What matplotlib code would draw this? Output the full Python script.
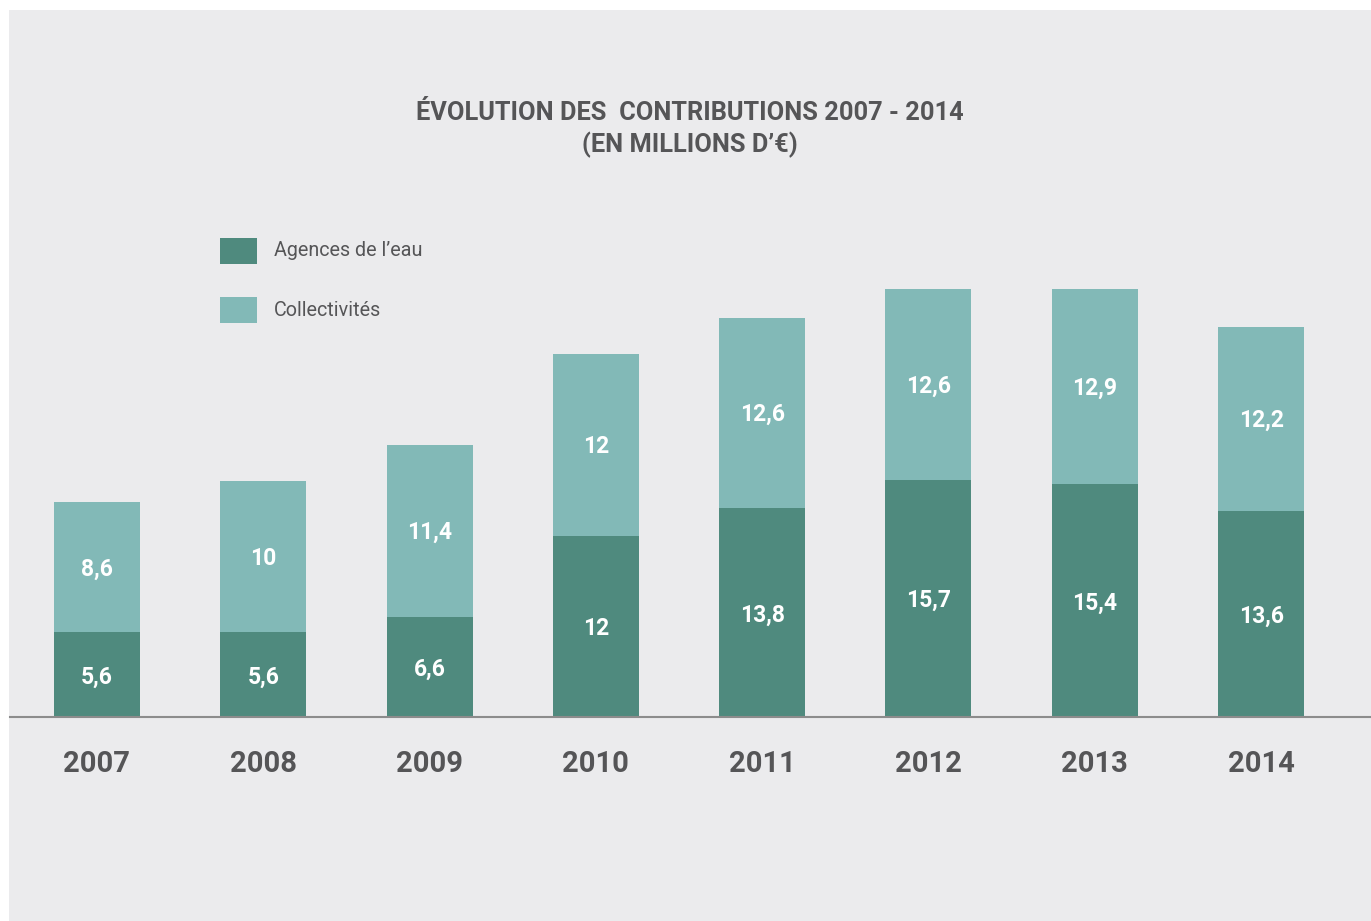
import matplotlib
matplotlib.use("Agg")
import matplotlib.pyplot as plt
from matplotlib.patches import Rectangle

years = ["2007", "2008", "2009", "2010", "2011", "2012", "2013", "2014"]
agences = [5.6, 5.6, 6.6, 12, 13.8, 15.7, 15.4, 13.6]
collectivites = [8.6, 10, 11.4, 12, 12.6, 12.6, 12.9, 12.2]
series_names = ["Agences de l\u2019eau", "Collectivités"]

DARK = "#4F8A7E"
LIGHT = "#82B9B7"
BG = "#EBEBED"
TXT = "#555557"

W, H = 1371, 921
fig = plt.figure(figsize=(W / 100, H / 100), dpi=100)
fig.patch.set_facecolor("white")
fig.add_artist(Rectangle((9 / W, 0), 1 - 9 / W, 1 - 10 / H, transform=fig.transFigure,
                         facecolor=BG, edgecolor="none", zorder=-10))

ax = fig.add_axes([10 / W, (H - 717) / H, 1360 / W, 707 / H])
ax.set_facecolor("none")
x = list(range(len(years)))
ax.bar(x, agences, width=0.517, color=DARK, zorder=2)
ax.bar(x, collectivites, width=0.517, bottom=agences, color=LIGHT, zorder=2)

ax.set_xlim(-0.523, 7.655)
ax.set_ylim(0, 707 / 15.12)

def fmt(v):
    s = f"{v:g}"
    return s.replace(".", ",")

for i in x:
    ax.text(i, agences[i] / 2 - 0.15, fmt(agences[i]), ha="center", va="center",
            color="white", fontsize=16.5, fontweight="bold", family="Roboto")
    ax.text(i, agences[i] + collectivites[i] / 2 - 0.1, fmt(collectivites[i]), ha="center",
            va="center", color="white", fontsize=16.5, fontweight="bold", family="Roboto")

for s in ["top", "left", "right"]:
    ax.spines[s].set_visible(False)
ax.spines["bottom"].set_color("#8C8C8C")
ax.spines["bottom"].set_linewidth(1.5)
ax.set_yticks([])
ax.set_xticks(x)
ax.set_xticklabels(years, fontsize=21, fontweight="bold", color=TXT, family="Roboto")
ax.tick_params(axis="x", length=0, pad=24)

fig.text(690 / W, 1 - 113 / H, "ÉVOLUTION DES  CONTRIBUTIONS 2007 - 2014", ha="center", va="center",
         fontsize=18.3, fontweight="bold", color=TXT, family="Roboto")
fig.text(690 / W, 1 - 145 / H, "(EN MILLIONS D\u2019€)", ha="center", va="center",
         fontsize=18.3, fontweight="bold", color=TXT, family="Roboto")

# legend
for j, (name, col) in enumerate(zip(series_names, [DARK, LIGHT])):
    y0 = 238 + j * 59
    fig.add_artist(Rectangle((220 / W, 1 - (y0 + 26) / H), 37 / W, 26 / H,
                             transform=fig.transFigure, facecolor=col, edgecolor="none"))
    fig.text(274 / W, 1 - (y0 + 13) / H, name, ha="left", va="center", fontsize=14.2,
             color=TXT, family="Roboto")

fig.savefig("out.png", dpi=100, facecolor=fig.get_facecolor())
